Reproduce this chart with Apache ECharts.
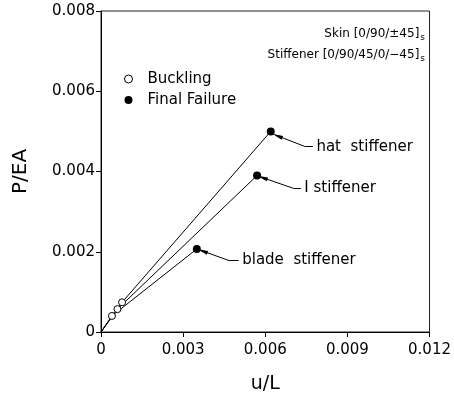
<!DOCTYPE html>
<html>
<head>
<meta charset="utf-8">
<script src="https://cdn.jsdelivr.net/npm/echarts@6/dist/echarts.min.js"></script>
<style>html,body{margin:0;padding:0;background:#fff}#c{width:454px;height:399px}</style>
</head>
<body>
<div id="c"></div>
<script>
// ---- data (u/L, P/EA) : origin, buckling, final failure ----
const bladeU = [0, 0.0004, 0.0035];
const bladeP = [0, 0.0004, 0.00207];
const iU = [0, 0.0006, 0.0057];
const iP = [0, 0.00057, 0.0039];
const hatU = [0, 0.00077, 0.0062];
const hatP = [0, 0.00074, 0.0050];
const xTicks = ['0', '0.003', '0.006', '0.009', '0.012'];
const yTicks = ['0', '0.002', '0.004', '0.006', '0.008'];
const curveNames = ['blade  stiffener', 'I stiffener', 'hat  stiffener'];
// leader lines: [label anchor, elbow, arrow tip] in data coords
const bladeLeader = [[0.00503, 0.00178], [0.00468, 0.00178], [0.0037, 0.00202]];
const iLeader = [[0.00730, 0.00358], [0.00703, 0.00358], [0.00589, 0.00385]];
const hatLeader = [[0.00774, 0.00462], [0.00746, 0.00462], [0.00644, 0.00489]];

const FONT = 'DejaVu Sans';
const curves = [[bladeU, bladeP, bladeLeader], [iU, iP, iLeader], [hatU, hatP, hatLeader]];

const series = [];
curves.forEach(([u, p, ld], k) => {
  series.push({
    type: 'line', name: curveNames[k],
    data: u.map((v, i) => [v, p[i]]),
    symbol: 'none', lineStyle: {color: '#000', width: 1},
    silent: true, z: 2,
    markLine: {
      silent: true, animation: false,
      label: {show: false},
      lineStyle: {color: '#000', width: 1, type: 'solid', opacity: 1},
      data: [
        [{coord: ld[0], symbol: 'none'}, {coord: ld[1], symbol: 'none'}],
        [{coord: ld[1], symbol: 'none'}, {coord: ld[2], symbol: 'triangle', symbolSize: [4, 11]}]
      ]
    },
    markPoint: {
      silent: true, animation: false,
      data: [{
        coord: ld[0], symbol: 'circle', symbolSize: 1,
        itemStyle: {color: 'rgba(0,0,0,0)'},
        label: {show: true, position: 'right', distance: 3, formatter: curveNames[k],
                fontFamily: FONT, fontSize: 15, color: '#000'}
      }]
    }
  });
});
series.push({
  type: 'scatter', name: 'Buckling',
  data: curves.map(([u, p]) => [u[1], p[1]]),
  symbol: 'circle', symbolSize: 7,
  itemStyle: {color: '#fff', borderColor: '#000', borderWidth: 1, opacity: 1},
  z: 5
});
series.push({
  type: 'scatter', name: 'Final Failure',
  data: curves.map(([u, p]) => [u[2], p[2]]),
  symbol: 'circle', symbolSize: 8,
  itemStyle: {color: '#000', opacity: 1},
  z: 5
});

const chart = echarts.init(document.getElementById('c'), null, {renderer: 'canvas'});
chart.setOption({
  animation: false,
  backgroundColor: '#fff',
  grid: {left: 101, right: 24, top: 11, bottom: 64, show: true, borderColor: '#222', borderWidth: 1},
  xAxis: {
    type: 'value', min: 0, max: 0.012, interval: 0.003,
    name: 'u/L', nameLocation: 'middle', nameGap: 43,
    nameTextStyle: {fontFamily: FONT, fontSize: 19, color: '#000'},
    axisLine: {lineStyle: {color: '#000'}},
    axisTick: {show: true, inside: false, length: 5, lineStyle: {color: '#000'}},
    axisLabel: {margin: 11, fontFamily: FONT, fontSize: 15, color: '#000',
                formatter: (v) => xTicks[Math.round(v / 0.003)]},
    splitLine: {show: false}
  },
  yAxis: {
    type: 'value', min: 0, max: 0.008, interval: 0.002,
    name: 'P/EA', nameLocation: 'middle', nameGap: 70, nameRotate: 90,
    nameTextStyle: {fontFamily: FONT, fontSize: 20, color: '#000'},
    axisLine: {lineStyle: {color: '#000'}},
    axisTick: {show: true, inside: false, length: 5, lineStyle: {color: '#000'}},
    axisLabel: {margin: 6, fontFamily: FONT, fontSize: 15, color: '#000',
                formatter: (v) => yTicks[Math.round(v / 0.002)]},
    splitLine: {show: false}
  },
  legend: {
    data: [
      {name: 'Buckling', itemStyle: {color: '#fff', borderColor: '#000', borderWidth: 1}},
      {name: 'Final Failure', itemStyle: {color: '#000', borderWidth: 0}}
    ],
    orient: 'vertical', left: 119, top: 66,
    icon: 'circle', itemWidth: 8, itemHeight: 8, itemGap: 5,
    textStyle: {fontFamily: FONT, fontSize: 15, color: '#000', padding: [0, 0, 0, 10], lineHeight: 16},
    selectedMode: false
  },
  graphic: [{
    type: 'text', right: 29, top: 28,
    style: {
      text: 'Skin [0/90/±45]{sub|s}',
      font: '12px "DejaVu Sans"', fill: '#000', align: 'right',
      rich: {sub: {fontSize: 9, verticalAlign: 'bottom', padding: [7, 0, 0, 1], fontFamily: FONT}}
    }
  }, {
    type: 'text', right: 29, top: 49,
    style: {
      text: 'Stiffener [0/90/45/0/\u221245]{sub|s}',
      font: '12px "DejaVu Sans"', fill: '#000', align: 'right',
      rich: {sub: {fontSize: 9, verticalAlign: 'bottom', padding: [7, 0, 0, 1], fontFamily: FONT}}
    }
  }],
  series: series
});
</script>
</body>
</html>
